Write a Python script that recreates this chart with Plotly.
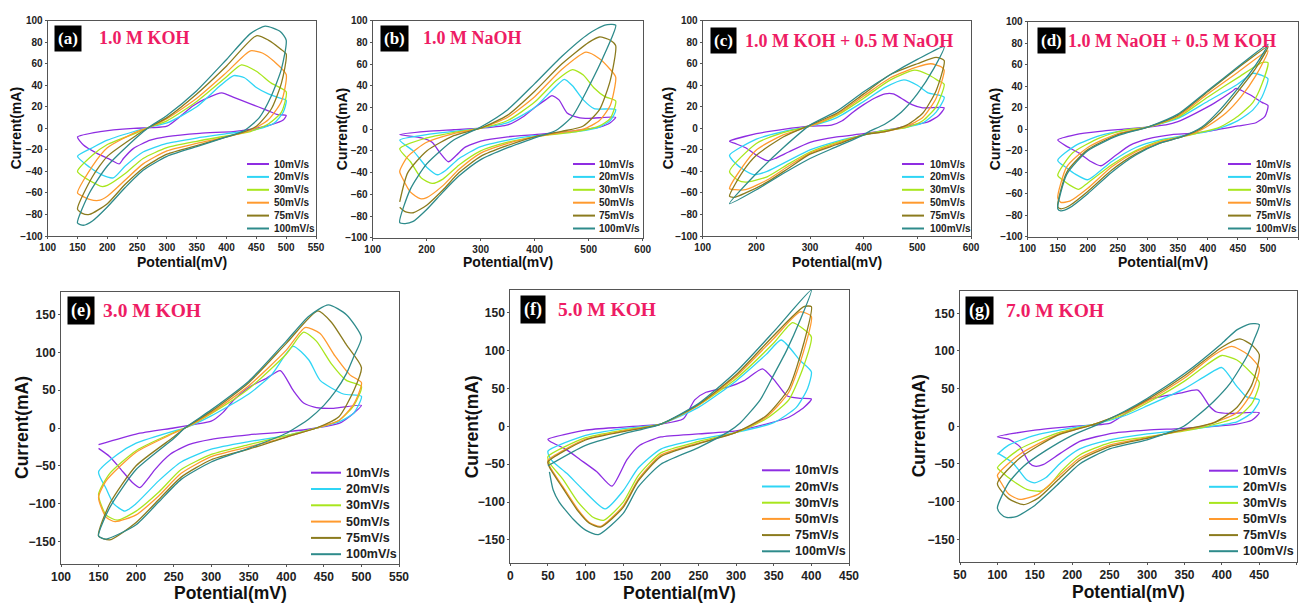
import plotly.graph_objects as go

W, H = 1306, 604

RATES = ["10mV/s", "20mV/s", "30mV/s", "50mV/s", "75mV/s", "100mV/s"]
COLORS = ["#8E2DE2", "#2FD5F5", "#A8E61D", "#FF9A2E", "#8B7B1E", "#2E8B8B"]

# ---- (a) 1.0 M KOH : (potential mV, current mA) around each CV loop
A_10 = [(150,-8),(188,-3),(244,0),(274,0.6),(300,2),(322,11),(344,21),(367,28),(392,33),(411,29),(439,23),(467,17),(484,13),(500,12),
        (495,7.7),(473,3),(439,-1),(411,-3),(355,-4.6),(300,-7.7),(272,-11),(244,-18.6),(227,-28),(220,-33),(205,-29),(182,-23),(160,-15.5),(150,-8)]
A_20 = [(150,-26),(175,-18),(200,-11),(250,-2),(270,1),(300,5),(350,20),(390,40),(412,49),(430,47),(450,38),(470,32),(490,28),(500,26),
        (495,15),(480,5),(450,-1),(400,-5),(350,-9),(300,-14),(260,-22),(230,-35),(210,-46),(190,-43),(170,-36),(150,-26)]
A_30 = [(150,-40),(175,-25),(200,-15),(250,-4),(270,1),(300,7),(350,25),(400,48),(425,59),(450,53),(475,42),(500,34),
        (492,15),(470,4),(440,-3),(400,-7),(350,-12),(300,-18),(260,-28),(230,-42),(200,-53),(190,-54),(175,-50),(160,-45),(150,-40)]
A_50 = [(150,-60),(175,-35),(200,-18),(250,-3),(270,1),(300,9),(350,28),(400,52),(440,72),(460,70),(480,62),(500,50),
        (492,25),(470,8),(440,-2),(400,-8),(350,-14),(300,-21),(260,-33),(230,-48),(200,-63),(185,-67),(170,-66),(158,-63),(150,-60)]
A_75 = [(150,-75),(175,-45),(200,-26),(250,-6),(270,1),(300,10),(350,32),(400,58),(450,86),(470,82),(490,74),(500,69),
        (492,42),(475,18),(450,2),(420,-5),(400,-8),(350,-16),(300,-24),(260,-37),(230,-52),(200,-70),(170,-80),(158,-79),(150,-75)]
A_100 = [(150,-88),(170,-60),(200,-35),(250,-8),(270,1),(300,12),(350,35),(400,64),(440,88),(465,95),(490,90),(500,82),
         (492,55),(475,30),(455,10),(430,-2),(400,-8),(350,-17),(300,-26),(260,-39),(230,-55),(200,-73),(175,-86),(160,-90),(150,-88)]

# ---- (b) 1.0 M NaOH
B_10 = [(150,-5),(200,-2),(250,-0.5),(300,1),(350,4),(380,12),(400,20),(420,27),(432,31),(445,27),(460,15),(480,11),(500,10),(550,11),
        (540,6),(520,2),(480,-1),(450,-3),(400,-5),(350,-7),(300,-11),(270,-17),(255,-24),(240,-30),(225,-22),(210,-12),(190,-8),(150,-5)]
B_20 = [(150,-10),(200,-5),(250,-2),(300,1),(350,6),(400,20),(430,35),(455,46),(470,40),(490,27),(510,19),(550,18),
        (540,8),(520,2),(480,-2),(400,-6),(350,-10),(300,-16),(260,-27),(235,-38),(220,-42),(200,-35),(175,-20),(150,-10)]
B_30 = [(150,-18),(200,-8),(250,-3),(300,1),(350,8),(400,25),(440,45),(470,55),(490,50),(510,38),(530,30),(550,26),
        (540,10),(520,3),(480,-2),(400,-7),(350,-12),(300,-20),(260,-33),(230,-46),(210,-50),(190,-45),(170,-30),(150,-18)]
B_50 = [(150,-39),(165,-25),(200,-12),(250,-4),(300,1),(350,11),(400,30),(450,55),(495,71),(520,65),(540,55),(550,48),
        (540,22),(520,8),(490,0),(450,-3),(400,-7),(350,-13),(300,-22),(260,-37),(230,-52),(200,-63),(188,-64),(170,-58),(155,-45),(150,-39)]
B_75 = [(150,-67),(165,-40),(200,-20),(250,-6),(300,1),(350,13),(400,35),(450,60),(500,80),(520,85),(540,82),(550,77),
        (540,45),(520,18),(490,3),(450,-2),(400,-7),(350,-15),(300,-25),(260,-40),(230,-56),(200,-70),(175,-77),(160,-76),(150,-72)]
B_100 = [(150,-86),(170,-55),(200,-32),(250,-10),(300,2),(350,18),(400,42),(450,67),(500,88),(530,96),(550,96),
         (530,70),(500,39),(470,12),(440,-1),(400,-8),(350,-17),(300,-28),(260,-43),(230,-58),(200,-74),(175,-85),(160,-87),(150,-86)]

# ---- (c) 1.0 M KOH + 0.5 M NaOH
C_10 = [(150,-12),(200,-5),(250,-1),(300,2),(340,3),(360,7),(380,15),(400,22),(420,28),(440,32),(455,32),(470,28),(490,22),(510,19),(550,19),
        (540,12),(520,6),(490,3),(450,-1),(400,-5),(350,-8),(300,-13),(260,-22),(235,-28),(220,-30),(200,-25),(180,-18),(160,-14),(150,-12)]
C_20 = [(150,-25),(200,-10),(250,-3),(300,2),(350,10),(400,25),(440,38),(475,45),(500,40),(520,33),(550,29),
        (535,15),(510,5),(480,1),(440,-2),(400,-6),(350,-12),(300,-20),(260,-30),(220,-40),(195,-43),(175,-38),(160,-32),(150,-25)]
C_30 = [(150,-40),(200,-14),(250,-4),(300,2),(350,12),(400,28),(450,45),(495,54),(520,50),(540,44),(550,41),
        (535,20),(510,7),(480,1),(440,-2),(400,-6),(350,-13),(300,-22),(260,-33),(220,-45),(180,-50),(165,-48),(150,-40)]
C_50 = [(150,-56),(175,-35),(200,-20),(250,-6),(300,2),(350,13),(400,30),(450,47),(500,57),(525,60),(545,57),(550,54),
        (535,28),(510,10),(480,2),(440,-3),(400,-6),(350,-14),(300,-23),(260,-35),(220,-48),(180,-57),(160,-57),(150,-56)]
C_75 = [(150,-63),(175,-40),(200,-25),(250,-8),(300,3),(350,14),(400,32),(450,50),(500,60),(535,66),(550,63),
        (535,35),(510,14),(480,3),(440,-3),(400,-6),(350,-15),(300,-24),(260,-37),(220,-50),(180,-60),(160,-64),(150,-63)]
C_100 = [(150,-70),(200,-42),(250,-18),(300,3),(350,16),(400,34),(450,50),(500,64),(550,76),
         (530,55),(500,32),(470,15),(440,4),(410,-3),(400,-6),(350,-17),(300,-28),(250,-42),(200,-57),(150,-70)]

# ---- (d) 1.0 M NaOH + 0.5 M KOH
D_10 = [(150,-10),(180,-5),(220,-2),(260,0),(300,2),(330,4),(350,7),(380,15),(410,24),(440,35),(447,38),(470,32),(490,25),(500,22),
        (495,12),(480,6),(450,3),(420,0),(400,-2),(370,-4),(340,-5),(300,-9),(270,-15),(245,-25),(222,-34),(205,-30),(185,-22),(165,-16),(150,-10)]
D_20 = [(150,-29),(180,-15),(220,-6),(260,-1),(300,2),(350,10),(400,26),(450,42),(475,52),(490,50),(500,47),
        (490,30),(475,18),(450,8),(420,1),(400,-2),(360,-6),(320,-10),(280,-17),(240,-30),(200,-47),(180,-42),(165,-36),(150,-29)]
D_30 = [(150,-43),(175,-22),(220,-8),(260,-1),(300,2),(350,11),(400,30),(450,48),(490,62),(500,62),
        (490,42),(475,25),(450,12),(420,2),(380,-4),(357,-7),(320,-11),(280,-20),(240,-33),(200,-50),(185,-56),(170,-52),(160,-48),(150,-43)]
D_50 = [(150,-64),(165,-35),(200,-17),(250,-4),(300,2),(350,12),(400,33),(450,53),(500,73),
        (480,50),(455,30),(430,15),(400,3),(380,-3),(357,-7),(320,-12),(280,-21),(240,-35),(200,-55),(170,-67),(155,-68),(150,-64)]
D_75 = [(150,-72),(165,-40),(200,-19),(250,-5),(300,2),(350,13),(400,35),(450,57),(500,77),
        (480,57),(450,35),(420,15),(390,1),(357,-7),(320,-13),(280,-23),(240,-38),(200,-58),(170,-71),(155,-74),(150,-72)]
D_100 = [(150,-74),(165,-42),(200,-20),(250,-6),(300,2),(350,14),(400,36),(450,58),(500,79),
         (480,60),(450,38),(420,18),(390,2),(357,-7),(320,-13),(280,-24),(240,-40),(200,-60),(170,-73),(155,-76),(150,-74)]

# ---- (e) 3.0 M KOH
E_10 = [(150,-22),(200,-8),(250,0),(280,5),(300,9),(315,20),(330,37),(352,55),(374,66),(392,76),(409,50),(423,33),(440,27),(463,26),(500,30),
        (490,20),(470,6),(440,0),(400,-5),(350,-9),(300,-15),(270,-22),(245,-35),(225,-55),(215,-68),(205,-79),(195,-72),(180,-55),(165,-38),(150,-27)]
E_20 = [(150,-58),(175,-35),(200,-20),(250,-4),(265,0),(300,16),(350,45),(380,70),(409,108),(430,90),(445,63),(476,45),(500,42),
        (490,20),(470,8),(440,0),(400,-10),(350,-18),(300,-28),(260,-45),(230,-70),(200,-100),(185,-110),(170,-100),(160,-80),(150,-58)]
E_30 = [(150,-88),(165,-60),(200,-30),(250,-6),(265,0),(300,19),(350,52),(400,98),(423,127),(440,115),(460,85),(480,63),(500,55),
        (490,30),(470,10),(440,0),(400,-10),(350,-22),(300,-35),(260,-55),(230,-85),(200,-110),(175,-122),(160,-115),(150,-88)]
E_50 = [(150,-92),(160,-70),(200,-32),(250,-7),(265,0),(300,20),(350,56),(400,103),(425,133),(445,125),(465,95),(485,70),(500,60),
        (490,32),(470,10),(440,0),(400,-12),(350,-25),(300,-38),(260,-60),(230,-90),(200,-115),(172,-124),(160,-118),(150,-92)]
E_75 = [(150,-143),(165,-100),(200,-50),(250,-12),(265,0),(300,22),(350,60),(400,112),(442,155),(460,140),(480,110),(500,80),
        (490,50),(470,15),(440,0),(400,-12),(350,-28),(300,-42),(260,-65),(230,-95),(200,-125),(165,-148),(150,-143)]
E_100 = [(150,-143),(165,-105),(200,-55),(250,-14),(265,0),(300,24),(350,62),(400,115),(430,148),(456,163),(480,150),(500,120),
         (490,95),(480,72),(465,48),(450,30),(430,12),(415,2),(400,-7),(350,-27),(300,-45),(260,-68),(230,-98),(200,-128),(160,-147),(150,-143)]

# ---- (f) 5.0 M KOH
F_10 = [(50,-17),(100,-5),(150,-1),(200,3),(230,10),(245,35),(260,45),(290,52),(310,60),(335,76),(350,62),(368,40),(385,37),(400,36),
        (390,25),(370,12),(340,3),(300,-6),(250,-10),(200,-14),(172,-25),(155,-44),(135,-79),(115,-60),(93,-44),(75,-31),(53,-20),(50,-17)]
F_20 = [(50,-33),(100,-12),(150,-3),(200,3),(250,25),(300,60),(340,95),(360,114),(385,87),(400,72),
        (395,50),(380,25),(350,5),(300,-8),(250,-17),(200,-30),(170,-55),(150,-85),(126,-109),(97,-84),(75,-62),(55,-45),(50,-33)]
F_30 = [(50,-40),(100,-15),(150,-5),(200,3),(250,28),(300,63),(350,110),(375,137),(390,128),(400,118),
        (390,80),(370,35),(340,10),(300,-8),(250,-20),(200,-35),(170,-65),(150,-100),(124,-124),(110,-120),(90,-100),(70,-70),(52,-48),(50,-40)]
F_50 = [(50,-45),(100,-17),(150,-6),(200,3),(250,28),(300,66),(350,116),(385,151),(400,145),
        (390,100),(370,45),(340,12),(300,-8),(250,-22),(200,-38),(170,-70),(150,-105),(120,-132),(105,-127),(90,-110),(70,-80),(52,-52),(50,-45)]
F_75 = [(50,-47),(100,-18),(150,-7),(200,3),(250,29),(300,68),(350,120),(390,158),(400,158),
        (390,110),(370,50),(340,14),(300,-8),(250,-23),(200,-40),(170,-72),(150,-107),(120,-133),(105,-128),(90,-112),(70,-82),(52,-54),(50,-47)]
F_100 = [(50,-52),(100,-25),(150,-10),(200,3),(250,30),(300,72),(350,125),(400,180),
         (385,140),(367,100),(350,68),(332,35),(305,4),(290,-7),(250,-28),(200,-50),(170,-80),(150,-115),(117,-143),(100,-137),(84,-123),(65,-100),(57,-84),(52,-60)]

# ---- (g) 7.0 M KOH
G_10 = [(100,-14),(150,-5),(200,0),(250,4),(264,12),(300,35),(344,44),(368,48),(384,26),(393,19),(411,17),(450,18),
        (440,8),(420,3),(390,0),(344,-3),(300,-5),(255,-9),(210,-20),(184,-36),(161,-51),(150,-53),(143,-49),(130,-27),(115,-17),(100,-14)]
G_20 = [(100,-37),(115,-25),(150,-12),(200,-2),(230,3),(270,14),(300,27),(350,50),(380,68),(400,78),(420,53),(433,39),(450,35),
        (440,18),(420,6),(380,-1),(350,-5),(300,-10),(250,-18),(210,-30),(185,-48),(165,-68),(150,-75),(139,-71),(121,-49),(101,-36)]
G_30 = [(100,-55),(130,-30),(180,-9),(230,3),(270,16),(300,31),(350,60),(380,82),(400,94),(420,88),(440,70),(450,58),
        (440,30),(420,12),(380,0),(350,-6),(300,-14),(250,-22),(210,-38),(185,-60),(170,-78),(158,-86),(140,-84),(120,-72),(105,-60),(100,-55)]
G_50 = [(100,-65),(130,-37),(180,-11),(230,3),(270,18),(300,33),(350,64),(390,95),(413,106),(435,95),(450,77),
        (440,45),(420,18),(380,2),(350,-5),(300,-15),(250,-25),(210,-42),(180,-68),(155,-90),(130,-97),(115,-90),(105,-75),(100,-65)]
G_75 = [(100,-76),(130,-42),(180,-12),(230,3),(270,19),(300,35),(350,67),(400,105),(424,116),(440,108),(450,95),
        (440,55),(420,25),(390,5),(350,-4),(300,-16),(250,-27),(210,-45),(180,-72),(155,-95),(135,-104),(115,-96),(100,-76)]
G_100 = [(100,-108),(115,-75),(135,-53),(165,-32),(200,-12),(235,3),(270,20),(300,37),(350,70),(400,110),(420,128),(438,136),(450,135),
         (443,115),(433,92),(411,57),(389,33),(366,13),(349,0),(300,-18),(250,-30),(210,-50),(180,-78),(150,-105),(125,-120),(112,-121),(104,-116),(100,-108)]

TAGS = ["(a)", "(b)", "(c)", "(d)", "(e)", "(f)", "(g)"]
TITLES = ["1.0 M KOH", "1.0 M NaOH", "1.0 M KOH + 0.5 M NaOH", "1.0 M NaOH + 0.5 M KOH",
          "3.0 M KOH", "5.0 M KOH", "7.0 M KOH"]
LOOPS = [
    [A_10, A_20, A_30, A_50, A_75, A_100],
    [B_10, B_20, B_30, B_50, B_75, B_100],
    [C_10, C_20, C_30, C_50, C_75, C_100],
    [D_10, D_20, D_30, D_50, D_75, D_100],
    [E_10, E_20, E_30, E_50, E_75, E_100],
    [F_10, F_20, F_30, F_50, F_75, F_100],
    [G_10, G_20, G_30, G_50, G_75, G_100],
]
X_RANGES = [[100, 550], [100, 600], [100, 600], [100, 550], [100, 550], [0, 450], [50, 500]]
X_DTICK = [50, 100, 100, 50, 50, 50, 50]
Y_RANGES = [[-100, 100]] * 4 + [[-180, 180]] * 3
Y_DTICK = [20] * 4 + [50] * 3

# ---- layout geometry (pixels)
GEOM = [
    dict(fr=(47.7, 316, 20.7, 236), tag=(67.5, 38.5), tit=97, leg=(247, 269, 272, 164, 12.9), yt=16, xt=262),
    dict(fr=(372.7, 642.7, 20.7, 237.7), tag=(394.5, 38.5), tit=421, leg=(573, 595, 597, 164, 12.9), yt=342, xt=262),
    dict(fr=(702.7, 971, 20.7, 236), tag=(723, 41), tit=743, leg=(902, 924, 928, 164, 12.9), yt=668, xt=262),
    dict(fr=(1027.7, 1298, 21.7, 236.7), tag=(1051, 41), tit=1066, leg=(1228, 1251, 1254, 164, 12.9), yt=995, xt=262),
    dict(fr=(61, 399, 292, 564), tag=(80.5, 310), tit=101, leg=(311, 341, 343.5, 472.7, 16.3), yt=22, xt=593),
    dict(fr=(510.3, 849, 290, 562.7), tag=(532.5, 309.5), tit=556, leg=(762, 790, 793, 470.3, 16.2), yt=472, xt=593),
    dict(fr=(960, 1296.7, 290.7, 561.9), tag=(979.5, 310.5), tit=1004, leg=(1209, 1238, 1241, 470.7, 16.1), yt=919, xt=592),
]
ROW_STYLE = [
    dict(tick=10, axt=14, leg=10, tag=17, tit=18),
    dict(tick=12, axt=17.5, leg=12.5, tag=18, tit=19.5),
]

SANS = "Liberation Sans, Arial, sans-serif"
SERIF = "Liberation Serif, Times New Roman, serif"
PINK = "#EE1C64"


def fx(p):
    return p / W


def fy(p):
    return 1 - p / H


fig = go.Figure()
annotations = []
shapes = []
layout = {}

for i in range(7):
    g = GEOM[i]
    st = ROW_STYLE[0 if i < 4 else 1]
    n = "" if i == 0 else str(i + 1)
    xa, ya = "x" + n, "y" + n
    for k, loop in enumerate(LOOPS[i]):
        fig.add_trace(go.Scatter(
            x=[p[0] for p in loop], y=[p[1] for p in loop],
            mode="lines", name=RATES[k], showlegend=False,
            line=dict(color=COLORS[k], width=1.3, shape="spline", smoothing=0.6),
            xaxis=xa, yaxis=ya, hoverinfo="skip"))
    x0, x1, y0, y1 = g["fr"]
    common = dict(showgrid=False, zeroline=False, showline=True, mirror=True,
                  linecolor="#555", linewidth=1, ticks="outside", ticklen=2,
                  tickcolor="#555", automargin=False,
                  tickfont=dict(family=SANS, size=st["tick"], color="#222", weight="bold"))
    layout["xaxis" + n] = dict(common, domain=[fx(x0), fx(x1)], range=X_RANGES[i],
                               tick0=0, dtick=X_DTICK[i], anchor=ya)
    layout["yaxis" + n] = dict(common, domain=[fy(y1), fy(y0)], range=Y_RANGES[i],
                               tick0=0, dtick=Y_DTICK[i], anchor=xa)
    annotations.append(dict(text="Current(mA)", xref="paper", yref="paper",
                            x=fx(g["yt"]), y=fy((y0 + y1) / 2), textangle=-90,
                            showarrow=False, xanchor="center", yanchor="middle",
                            font=dict(family=SANS, size=st["axt"], color="#111", weight="bold")))
    annotations.append(dict(text="Potential(mV)", xref="paper", yref="paper",
                            x=fx((x0 + x1) / 2), y=fy(g["xt"]),
                            showarrow=False, xanchor="center", yanchor="middle",
                            font=dict(family=SANS, size=st["axt"], color="#111", weight="bold")))
    annotations.append(dict(text=TAGS[i], xref="paper", yref="paper",
                            x=fx(g["tag"][0]), y=fy(g["tag"][1]), showarrow=False,
                            xanchor="center", yanchor="middle", bgcolor="black", borderpad=3,
                            font=dict(family=SERIF, size=st["tag"], color="white", weight="bold")))
    annotations.append(dict(text=TITLES[i], xref="paper", yref="paper",
                            x=fx(g["tit"]), y=fy(g["tag"][1]), showarrow=False,
                            xanchor="left", yanchor="middle",
                            font=dict(family=SERIF, size=st["tit"], color=PINK, weight="bold")))
    sx0, sx1, tx, ly0, dy = g["leg"]
    for k, r in enumerate(RATES):
        yy = ly0 + k * dy
        shapes.append(dict(type="line", xref="paper", yref="paper",
                           x0=fx(sx0), x1=fx(sx1), y0=fy(yy), y1=fy(yy),
                           line=dict(color=COLORS[k], width=2)))
        annotations.append(dict(text=r, xref="paper", yref="paper", x=fx(tx), y=fy(yy),
                                showarrow=False, xanchor="left", yanchor="middle",
                                font=dict(family=SANS, size=st["leg"], color="#222", weight="bold")))

fig.update_layout(
    width=W, height=H, margin=dict(l=0, r=0, t=0, b=0, autoexpand=False),
    paper_bgcolor="white", plot_bgcolor="white",
    showlegend=False, annotations=annotations, shapes=shapes, **layout)

fig.write_html("out.html", config={"displayModeBar": False},
               post_script="document.body.style.margin='0';")
